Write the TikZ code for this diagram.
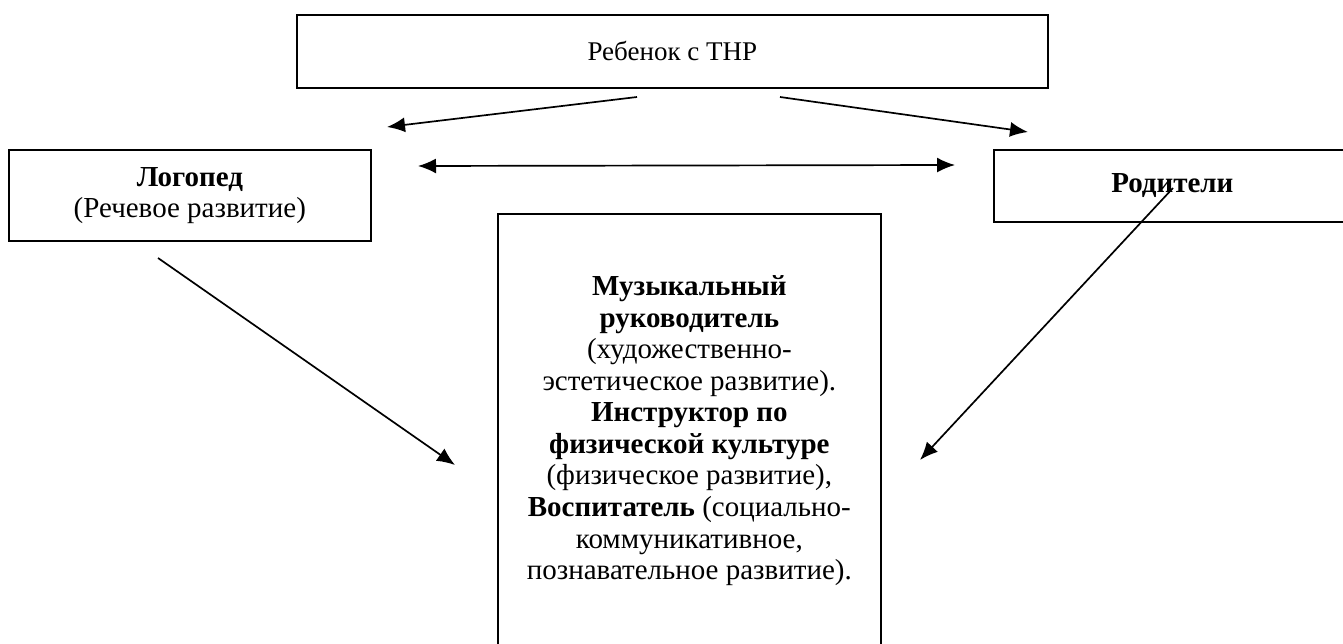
\documentclass[tikz,border=0pt]{standalone}
\usepackage{fontspec}
\setmainfont{Liberation Serif}
\usetikzlibrary{arrows.meta}

\begin{document}
\begin{tikzpicture}[x = 1pt, y = -1pt,
	box/.style = {draw, line width = 1.7pt, anchor = north west, align = center, inner sep = 0pt, font = \fontsize{29}{31.5}\selectfont},
	link/.style = {line width = 1.7pt, -{Latex[length = 18pt, width = 15pt]}},
	twolink/.style = {line width = 1.7pt, {Latex[length = 18pt, width = 15pt]}-{Latex[length = 18pt, width = 15pt]}}]
	\useasboundingbox (0, 0) rectangle (1343, 644);
	
	\node[box, minimum width = 751pt, minimum height = 73pt, font = \fontsize{27}{31.5}\selectfont] (child) at (296, 14) {Ребенок с ТНР};
	\node[box, minimum width = 362pt, minimum height = 91pt] (logoped) at (8, 149) {\textbf{Логопед}\\(Речевое развитие)};
	\node[box, minimum width = 357pt, minimum height = 72pt] (parents) at (993, 149) {\textbf{Родители}};
	\node[box, minimum width = 383pt, minimum height = 434pt] (staff) at (497, 213) {\textbf{Музыкальный}\\\textbf{руководитель}\\(художественно-\\эстетическое развитие).\\\textbf{Инструктор по}\\\textbf{физической культуре}\\(физическое развитие),\\\textbf{Воспитатель} (социально-\\коммуникативное,\\познавательное развитие).};
	
	\coordinate (childL) at (637, 97);
	\coordinate (childR) at (780, 97);
	\coordinate (logopedIn) at (387, 127);
	\coordinate (parentsIn) at (1028, 132);
	\coordinate (logopedSide) at (418, 166);
	\coordinate (parentsSide) at (955, 165);
	\coordinate (logopedOut) at (158, 258);
	\coordinate (staffL) at (455, 465);
	\coordinate (parentsOut) at (1173, 188);
	\coordinate (staffR) at (920, 460);
	
	\draw[link] (childL) -- (logopedIn);
	\draw[link] (childR) -- (parentsIn);
	\draw[twolink] (logopedSide) -- (parentsSide);
	\draw[link] (logopedOut) -- (staffL);
	\draw[link] (parentsOut) -- (staffR);
\end{tikzpicture}
\end{document}
